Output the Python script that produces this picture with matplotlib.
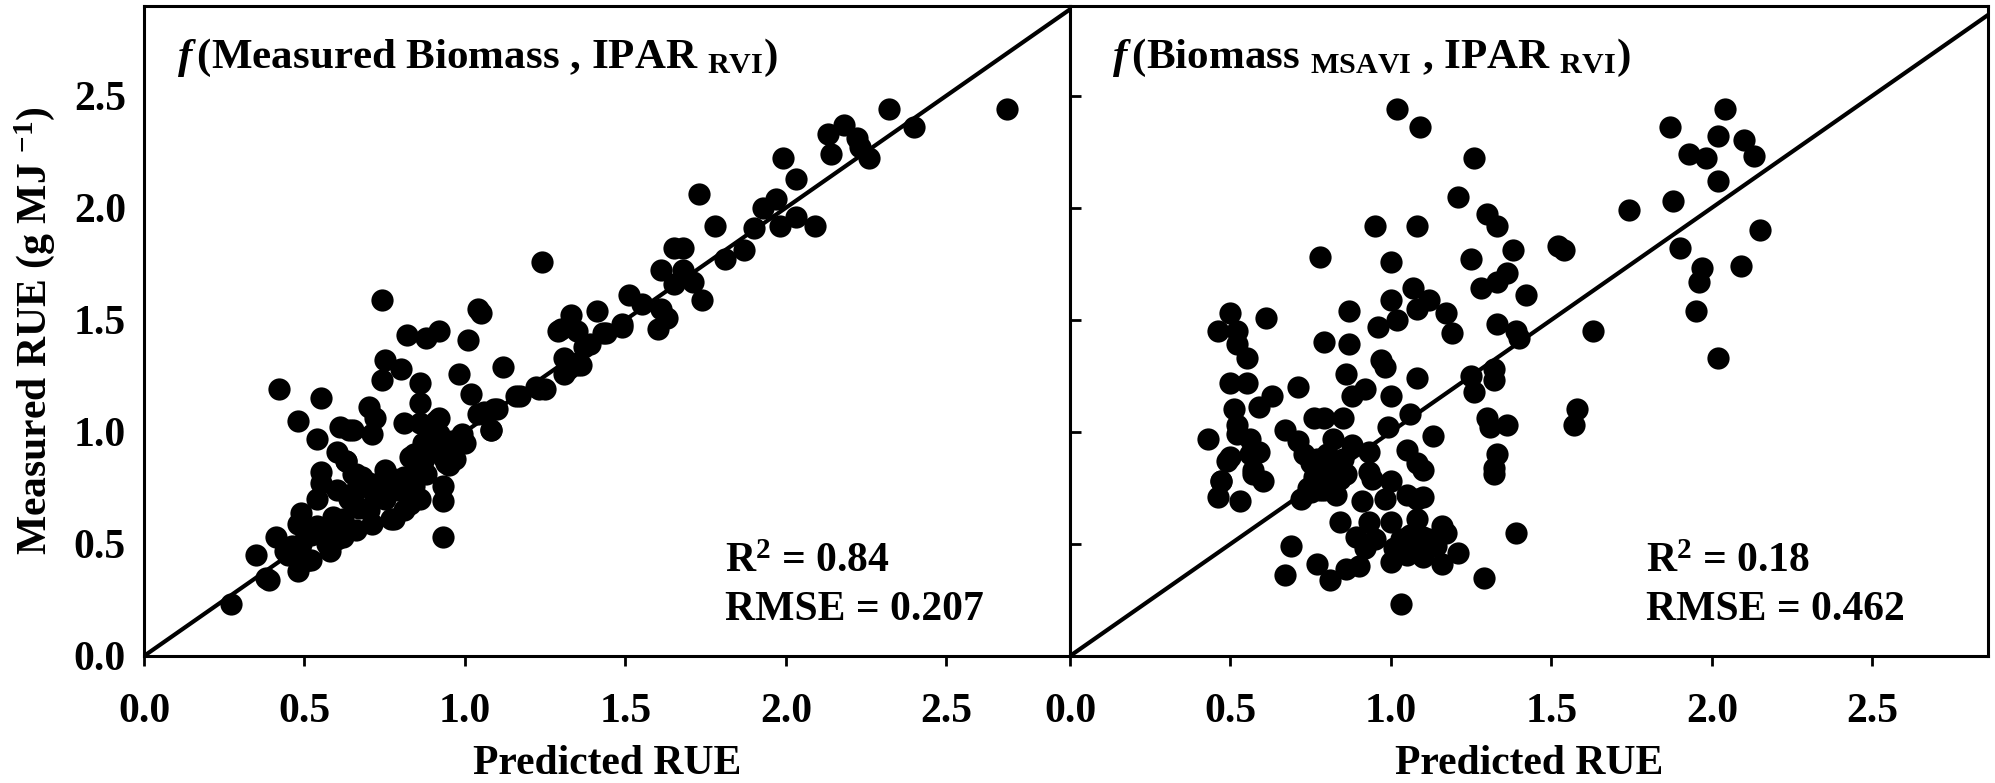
import matplotlib
matplotlib.use('Agg')
import matplotlib.pyplot as plt

plt.rcParams['font.family'] = ['Liberation Serif', 'DejaVu Serif']
plt.rcParams['font.weight'] = 'bold'
plt.rcParams['mathtext.fontset'] = 'custom'
plt.rcParams['mathtext.rm'] = 'Liberation Serif:bold'
plt.rcParams['mathtext.it'] = 'Liberation Serif:bold:italic'
plt.rcParams['mathtext.bf'] = 'Liberation Serif:bold'

# f(Measured Biomass, IPAR_RVI) : predicted vs measured RUE
left_pred = [
    0.27, 0.35, 0.38, 0.39, 0.41, 0.42, 0.45, 0.48, 0.48, 0.49, 0.48, 0.49,
    0.51, 0.52, 0.54, 0.54, 0.55, 0.55, 0.55, 0.54, 0.58, 0.60, 0.60, 0.61,
    0.62, 0.63, 0.64, 0.65, 0.65, 0.66, 0.67, 0.68, 0.71, 0.71, 0.70, 0.72,
    0.74, 0.75, 0.74, 0.75, 0.75, 0.75, 0.78, 0.78, 0.80, 0.81, 0.82, 0.83,
    0.83, 0.84, 0.86, 0.86, 0.86, 0.87, 0.88, 0.92, 0.92, 0.92, 0.93, 0.93,
    0.93, 0.94, 0.96, 0.98, 0.99, 1.01, 1.02, 1.04, 1.05, 1.04, 1.08, 1.10,
    1.12, 1.17, 1.22, 1.25, 1.24, 1.31, 1.31, 1.30, 1.33, 1.35, 1.36, 1.39,
    1.41, 1.44, 1.49, 1.51, 1.55, 1.60, 1.61, 1.63, 1.65, 1.65, 1.68, 1.68,
    1.71, 1.73, 1.74, 1.78, 1.81, 1.87, 1.90, 1.93, 1.97, 1.98, 1.99, 2.03,
    2.03, 2.09, 2.13, 2.14, 2.18, 2.22, 2.23, 2.26, 2.32, 2.40, 2.69,
    0.63, 0.68, 0.72, 0.77, 0.81, 0.85, 0.87, 0.90, 0.93, 0.96, 0.81, 0.59,
    0.62, 0.46, 0.51, 0.57, 0.83, 0.89, 0.95, 1.08, 1.09, 1.16, 1.23, 1.29,
    1.37, 1.43, 1.49, 1.61, 1.32, 1.35, 1.06, 0.91, 0.64, 0.77, 0.60, 0.66,
    0.66, 0.70, 0.74, 0.79, 0.84, 0.88, 0.91, 0.70, 0.58, 0.52, 0.44, 0.97,
    1.00, 0.86,
]
left_meas = [
    0.23, 0.45, 0.35, 0.34, 0.53, 1.19, 0.45, 0.38, 1.05, 0.50, 0.59, 0.64,
    0.43, 0.43, 0.58, 0.97, 1.15, 0.82, 0.77, 0.70, 0.47, 0.52, 0.91, 1.02,
    0.61, 0.87, 0.70, 1.01, 0.81, 0.56, 0.66, 0.79, 0.59, 0.99, 1.11, 1.06,
    1.23, 1.32, 1.59, 0.83, 0.70, 0.73, 0.61, 0.79, 1.28, 1.04, 1.43, 0.68,
    0.79, 0.90, 1.22, 1.13, 1.04, 0.87, 1.42, 1.45, 1.06, 0.99, 0.76, 0.69,
    0.53, 0.86, 0.92, 1.26, 0.99, 1.41, 1.17, 1.55, 1.53, 1.08, 1.01, 1.10,
    1.29, 1.16, 1.20, 1.19, 1.76, 1.26, 1.33, 1.46, 1.52, 1.45, 1.30, 1.39,
    1.54, 1.44, 1.48, 1.61, 1.57, 1.46, 1.72, 1.51, 1.66, 1.82, 1.82, 1.72,
    1.67, 2.06, 1.59, 1.92, 1.77, 1.81, 1.91, 2.00, 2.04, 1.92, 2.22, 2.13,
    1.96, 1.92, 2.33, 2.24, 2.37, 2.31, 2.27, 2.22, 2.44, 2.36, 2.44,
    0.87, 0.80, 0.71, 0.76, 0.80, 0.86, 0.95, 0.98, 0.89, 0.96, 0.65, 0.62,
    0.53, 0.49, 0.43, 0.50, 0.89, 0.91, 0.85, 1.01, 1.10, 1.16, 1.19, 1.45,
    1.38, 1.44, 1.47, 1.55, 1.28, 1.30, 1.09, 1.05, 1.01, 0.61, 0.74, 0.81,
    0.74, 0.77, 0.78, 0.74, 0.76, 0.81, 0.93, 0.65, 0.56, 0.54, 0.47, 0.88,
    0.95, 0.70,
]

# f(Biomass_MSAVI, IPAR_RVI)
right_pred = [
    1.02, 1.09, 1.26, 1.21, 0.95, 1.08, 1.30, 1.33, 0.78, 1.00, 1.25, 1.38,
    1.36, 1.28, 1.33, 1.42, 1.07, 1.12, 1.00, 1.08, 1.02, 0.87, 0.96, 1.17,
    1.19, 1.33, 1.39, 1.40, 0.79, 0.87, 0.97, 0.98, 1.08, 0.86, 1.25, 1.32,
    1.32, 1.26, 1.30, 1.31, 1.36, 1.33, 1.32, 1.32, 1.39, 1.29, 1.03, 0.88,
    0.92, 1.00, 0.99, 1.06, 1.13, 1.05, 1.08, 1.10, 0.93, 0.88, 0.82, 0.79,
    0.76, 0.85, 0.67, 0.71, 0.73, 0.75, 0.78, 0.77, 0.81, 0.86, 0.72, 0.75,
    0.79, 0.93, 0.94, 1.00, 0.91, 0.98, 1.05, 1.08, 1.10, 0.93, 1.00, 0.84,
    0.89, 0.92, 1.08, 1.06, 1.01, 1.00, 1.05, 1.10, 1.14, 1.17, 1.16, 1.21,
    1.12, 0.69, 0.77, 0.67, 0.81, 0.86, 0.90, 0.50, 0.46, 0.52, 0.52, 0.61,
    0.55, 0.50, 0.55, 0.51, 0.52, 0.52, 0.56, 0.59, 0.63, 0.43, 0.50, 0.56,
    0.59, 0.57, 0.60, 0.47, 0.46, 0.53, 1.57, 1.58, 1.63, 1.52, 1.54, 1.74,
    1.87, 1.88, 1.90, 1.93, 1.98, 2.02, 2.04, 2.02, 2.10, 2.13, 2.15, 2.09,
    1.97, 1.96, 1.95, 2.02, 0.71, 0.49, 0.47, 0.57, 0.77, 0.80, 0.78, 0.84,
    0.74, 0.83, 1.10, 1.16, 0.95, 0.78, 0.80, 0.82, 0.76, 0.85, 1.05, 1.08,
    1.12, 1.03,
]
right_meas = [
    2.44, 2.36, 2.22, 2.05, 1.92, 1.92, 1.97, 1.92, 1.78, 1.76, 1.77, 1.81,
    1.71, 1.64, 1.67, 1.61, 1.64, 1.59, 1.59, 1.55, 1.50, 1.54, 1.47, 1.53,
    1.44, 1.48, 1.45, 1.42, 1.40, 1.39, 1.32, 1.29, 1.24, 1.26, 1.25, 1.28,
    1.23, 1.18, 1.06, 1.02, 1.03, 0.90, 0.84, 0.81, 0.55, 0.35, 0.23, 1.16,
    1.19, 1.16, 1.02, 1.08, 0.98, 0.92, 0.86, 0.83, 0.91, 0.94, 0.97, 1.06,
    1.06, 1.06, 1.01, 0.96, 0.90, 0.86, 0.83, 0.78, 0.78, 0.81, 0.70, 0.73,
    0.74, 0.82, 0.79, 0.78, 0.69, 0.70, 0.72, 0.70, 0.71, 0.60, 0.60, 0.60,
    0.53, 0.48, 0.61, 0.54, 0.48, 0.42, 0.49, 0.44, 0.49, 0.55, 0.41, 0.46,
    0.52, 0.49, 0.41, 0.36, 0.34, 0.39, 0.40, 1.53, 1.45, 1.45, 1.39, 1.51,
    1.33, 1.22, 1.22, 1.10, 1.03, 0.99, 0.97, 1.11, 1.16, 0.97, 0.89, 0.90,
    0.91, 0.83, 0.78, 0.78, 0.71, 0.69, 1.03, 1.10, 1.45, 1.83, 1.81, 1.99,
    2.36, 2.03, 1.82, 2.24, 2.22, 2.32, 2.44, 2.12, 2.30, 2.23, 1.90, 1.74,
    1.73, 1.67, 1.54, 1.33, 1.20, 0.87, 0.78, 0.81, 0.88, 0.85, 0.74, 0.79,
    0.75, 0.72, 0.53, 0.58, 0.52, 0.86, 0.90, 0.84, 0.80, 0.88, 0.45, 0.52,
    0.50, 0.52,
]

x_ticks = [0.0, 0.5, 1.0, 1.5, 2.0, 2.5]
y_ticks = [0.0, 0.5, 1.0, 1.5, 2.0, 2.5]
tick_labels = ['0.0', '0.5', '1.0', '1.5', '2.0', '2.5']

fig = plt.figure(figsize=(19.95, 7.83), dpi=100)
ax1 = fig.add_axes([144 / 1995, 127 / 783, 926 / 1995, 650 / 783])
ax2 = fig.add_axes([1070 / 1995, 127 / 783, 918 / 1995, 650 / 783])

panels = [
    (ax1, left_pred, left_meas, r'$\it{f}\,$(Measured Biomass , IPAR $_{\rm RVI}$)',
     '0.84', '0.207', 2.885, 0.036),
    (ax2, right_pred, right_meas, r'$\it{f}\,$(Biomass $_{\rm MSAVI}$ , IPAR $_{\rm RVI}$)',
     '0.18', '0.462', 2.86, 0.046),
]

for ax, xs, ys, title, r2, rmse, xmax, tx in panels:
    ax.plot(xs, ys, 'o', color='black', ms=16, mew=0, zorder=3)
    ax.plot([0, 3], [0, 3], color='black', lw=3, zorder=2)
    ax.set_xlim(0, xmax)
    ax.set_ylim(0, 2.9)
    ax.set_xticks(x_ticks)
    ax.set_xticklabels(tick_labels)
    ax.set_yticks(y_ticks)
    for sp in ax.spines.values():
        sp.set_linewidth(2.2)
    ax.tick_params(axis='x', direction='out', length=7, width=2, labelsize=30, pad=20)
    ax.text(tx, 0.905, title, transform=ax.transAxes, fontsize=31, fontweight='bold')
    ax.text(0.627, 0.13, 'R$^2$ = ' + r2, transform=ax.transAxes, fontsize=30, fontweight='bold')
    ax.text(0.627, 0.055, 'RMSE = ' + rmse, transform=ax.transAxes, fontsize=30, fontweight='bold')
    ax.set_xlabel('Predicted RUE', fontsize=30, fontweight='bold', labelpad=10)

ax1.set_yticklabels(tick_labels)
ax1.tick_params(axis='y', length=0, labelsize=30, pad=13)
ax1.set_ylabel('Measured RUE (g MJ $^{-1}$)', fontsize=30, fontweight='bold', labelpad=12)
ax2.set_yticklabels([])
ax2.tick_params(axis='y', direction='in', length=8, width=2)

fig.savefig('out.png', dpi=100)
